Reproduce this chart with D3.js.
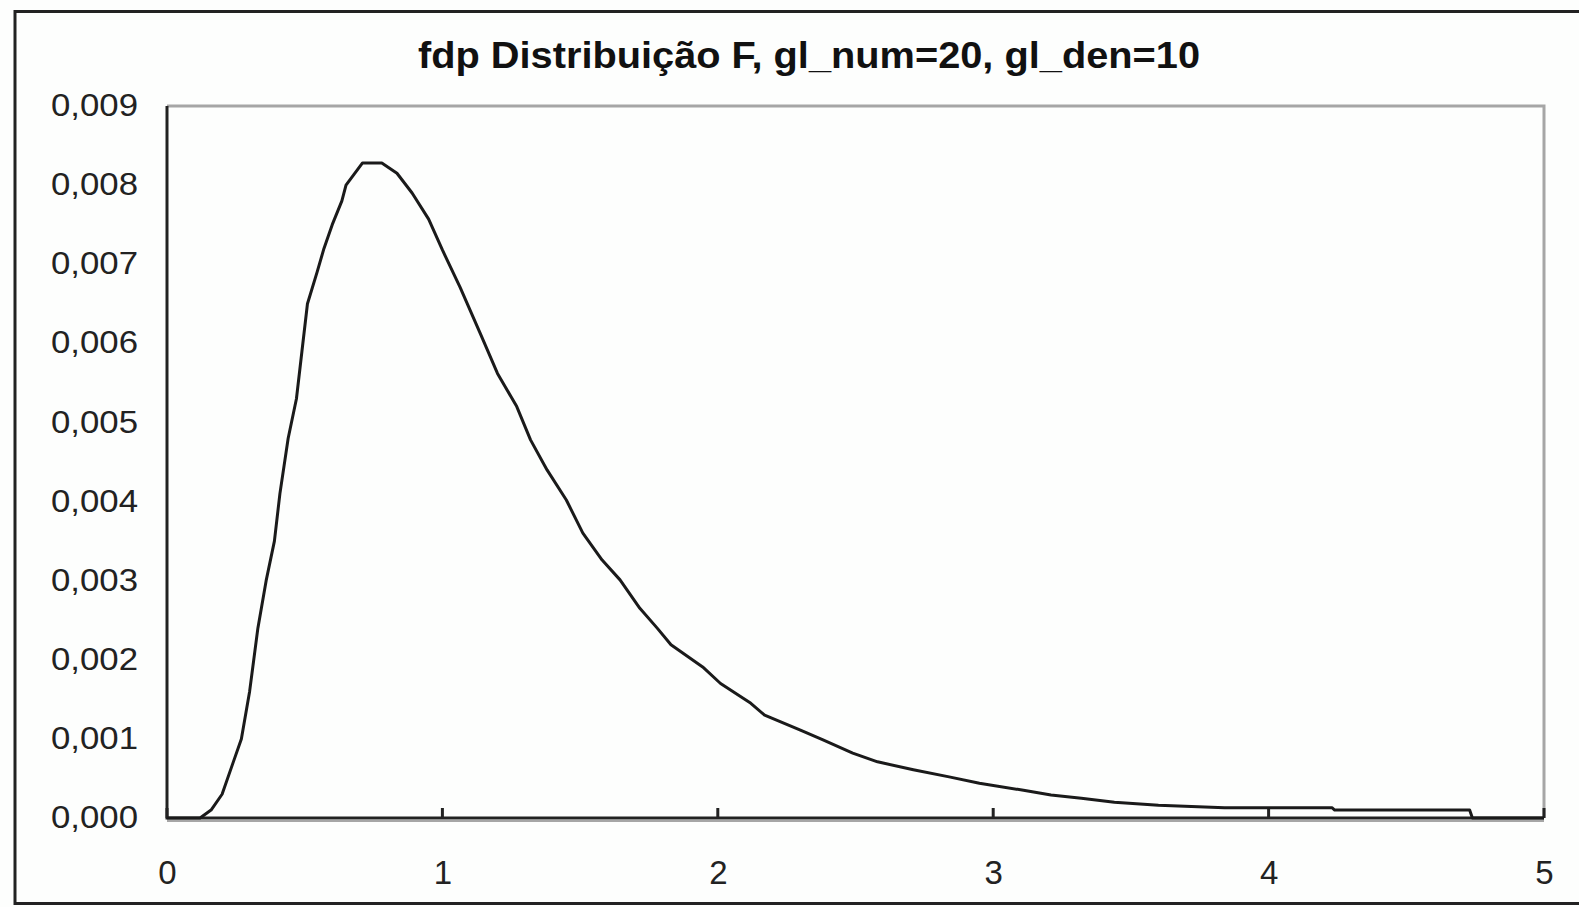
<!DOCTYPE html>
<html>
<head>
<meta charset="utf-8">
<script src="https://cdn.jsdelivr.net/npm/d3@7"></script>
<style>
  body { margin: 0; background: #fdfefd; }
  svg { display: block; }
</style>
</head>
<body>
<div id="chart"></div>
<script>
// data
var chartTitle = "fdp Distribuição F, gl_num=20, gl_den=10";
var xValues = [0, 0.12, 0.16, 0.20, 0.24, 0.27, 0.30, 0.33, 0.36, 0.39, 0.41, 0.44, 0.47, 0.49, 0.51,
  0.545, 0.57, 0.60, 0.635, 0.65, 0.71, 0.78, 0.835, 0.89, 0.95, 1.0, 1.064, 1.137, 1.20, 1.27,
  1.32, 1.38, 1.45, 1.51, 1.58, 1.645, 1.717, 1.78, 1.83, 1.945, 2.01, 2.12, 2.17, 2.30, 2.38,
  2.49, 2.58, 2.71, 2.84, 2.95, 3.11, 3.21, 3.32, 3.44, 3.60, 3.84, 4.23, 4.24, 4.73, 4.74, 5.0];
var densityValues = [0, 0, 0.0001, 0.0003, 0.0007, 0.001, 0.0016, 0.0024, 0.003, 0.0035, 0.0041, 0.0048, 0.0053, 0.0059, 0.0065,
  0.0069, 0.0072, 0.0075, 0.0078, 0.008, 0.00828, 0.00828, 0.00815, 0.0079, 0.00757, 0.00718, 0.00671, 0.00613, 0.00562, 0.0052,
  0.00478, 0.0044, 0.00402, 0.0036, 0.00326, 0.00301, 0.00265, 0.0024, 0.00219, 0.00191, 0.0017, 0.00145, 0.0013, 0.00111, 0.00099,
  0.00082, 0.00071, 0.00061, 0.00052, 0.00044, 0.00035, 0.00029, 0.00025, 0.0002, 0.00016, 0.00013, 0.00013, 0.0001, 0.0001, 0, 0];
var xTicks = [0, 1, 2, 3, 4, 5];
var yTicks = [0, 0.001, 0.002, 0.003, 0.004, 0.005, 0.006, 0.007, 0.008, 0.009];

var svgWidth = 1579;
var svgHeight = 907;
var plot = {left: 167, right: 1544, top: 106, bottom: 818};

var svg = d3.select("#chart")
  .append("svg")
  .attr("width", svgWidth)
  .attr("height", svgHeight);

// outer frame (right side is cut off in the picture)
svg.append("rect")
  .attr("x", 15).attr("y", 11.5)
  .attr("width", 1600).attr("height", 892)
  .attr("fill", "#fdfefd")
  .attr("stroke", "#222")
  .attr("stroke-width", 3);

var xScale = d3.scaleLinear().domain([0, 5]).range([plot.left, plot.right]);
var yScale = d3.scaleLinear().domain([0, 0.009]).range([plot.bottom, plot.top]);

// plot area border: gray top and right
svg.append("path")
  .attr("d", "M" + plot.left + "," + plot.top + "H" + plot.right + "V" + plot.bottom)
  .attr("fill", "none")
  .attr("stroke", "#a6a6a6")
  .attr("stroke-width", 3);

// title
svg.append("text")
  .attr("x", 809)
  .attr("y", 68)
  .attr("text-anchor", "middle")
  .attr("textLength", 782)
  .attr("lengthAdjust", "spacingAndGlyphs")
  .attr("font-family", "Liberation Sans, Arial, sans-serif")
  .attr("font-weight", "bold")
  .attr("font-size", 37)
  .attr("fill", "#111")
  .text(chartTitle);

// axes
var commaFormat = function(d) { return d3.format(".3f")(d).replace(".", ","); };

var bottomAxis = d3.axisBottom(xScale).tickValues(xTicks).tickSize(0).tickFormat(d3.format("d"));
var leftAxis = d3.axisLeft(yScale).tickValues(yTicks).tickSize(0).tickPadding(29).tickFormat(commaFormat);

var gx = svg.append("g")
  .attr("transform", "translate(0," + plot.bottom + ")")
  .call(bottomAxis);
gx.select(".domain").remove();
gx.selectAll("text")
  .attr("font-family", "Liberation Sans, Arial, sans-serif")
  .attr("font-size", 33)
  .attr("fill", "#222")
  .attr("dy", "0.35em")
  .attr("y", 54);

var gy = svg.append("g")
  .attr("transform", "translate(" + plot.left + ",0)")
  .call(leftAxis);
gy.select(".domain").remove();
gy.selectAll("text")
  .attr("font-family", "Liberation Sans, Arial, sans-serif")
  .attr("font-size", 32)
  .attr("fill", "#222")
  .attr("textLength", 87)
  .attr("lengthAdjust", "spacingAndGlyphs")
  .attr("dy", "0.3em");

// x tick marks pointing inward
svg.selectAll(".xtick")
  .data(xTicks)
  .enter()
  .append("line")
  .attr("x1", d => xScale(d)).attr("x2", d => xScale(d))
  .attr("y1", plot.bottom).attr("y2", plot.bottom - 10)
  .attr("stroke", "#222")
  .attr("stroke-width", 3);

// axis lines: dark left and bottom with gray shadow under the bottom one
svg.append("line")
  .attr("x1", plot.left).attr("x2", plot.right)
  .attr("y1", plot.bottom + 3).attr("y2", plot.bottom + 3)
  .attr("stroke", "#a6a6a6").attr("stroke-width", 2);
svg.append("path")
  .attr("d", "M" + plot.left + "," + plot.top + "V" + plot.bottom + "H" + plot.right)
  .attr("fill", "none")
  .attr("stroke", "#222")
  .attr("stroke-width", 3);

// density curve
var points = xValues.map((x, i) => ({x: x, y: densityValues[i]}));
var line = d3.line()
  .x(d => xScale(d.x))
  .y(d => yScale(d.y));

svg.append("path")
  .datum(points)
  .attr("d", line)
  .attr("fill", "none")
  .attr("stroke", "#1a1a1a")
  .attr("stroke-width", 3)
  .attr("stroke-linejoin", "round");
</script>
</body>
</html>
